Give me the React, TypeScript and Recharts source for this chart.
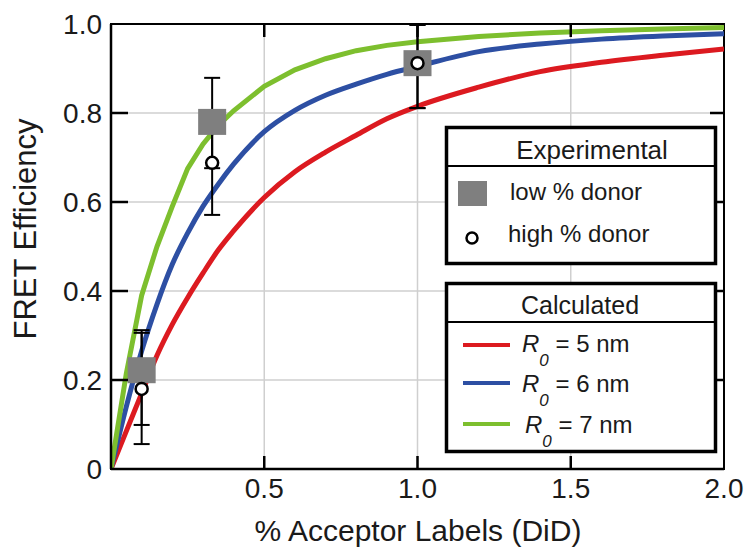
import React from 'react';
import {
  ComposedChart,
  Line,
  Scatter,
  XAxis,
  YAxis,
  CartesianGrid,
  ErrorBar,
  ReferenceArea,
} from 'recharts';

// ---- data ----
const acceptorPct = [0, 0.05, 0.1, 0.15, 0.2, 0.25, 0.3, 0.35, 0.4, 0.5, 0.6, 0.7, 0.8, 0.9, 1.0, 1.2, 1.4, 1.6, 1.8, 2.0];
const effR5 = [0, 0.085, 0.17, 0.255, 0.325, 0.385, 0.44, 0.492, 0.535, 0.61, 0.668, 0.712, 0.75, 0.787, 0.815, 0.858, 0.893, 0.914, 0.93, 0.944];
const effR6 = [0, 0.14, 0.265, 0.37, 0.46, 0.53, 0.59, 0.64, 0.685, 0.758, 0.806, 0.84, 0.865, 0.887, 0.905, 0.938, 0.955, 0.966, 0.973, 0.978];
const effR7 = [0, 0.215, 0.39, 0.5, 0.59, 0.675, 0.73, 0.772, 0.805, 0.86, 0.897, 0.922, 0.94, 0.952, 0.96, 0.972, 0.98, 0.985, 0.989, 0.992];

const lowDonorX = [0.1, 0.33, 1.0];
const lowDonorY = [0.222, 0.78, 0.912];
const lowDonorErrLow = [0.123, 0.104, 0.101];
const lowDonorErrHigh = [0.084, 0.099, 0.086];

const highDonorX = [0.1, 0.33, 1.0];
const highDonorY = [0.18, 0.688, 0.912];
const highDonorErrLow = [0.124, 0.117, 0.101];
const highDonorErrHigh = [0.132, 0.072, 0.086];

const xTicks = [0.5, 1.0, 1.5, 2.0];
const yTicks = [0, 0.2, 0.4, 0.6, 0.8, 1.0];
const xInnerTicks = [0.5, 1.0, 1.5];
const yInnerTicks = [0.2, 0.4, 0.6, 0.8];
const X_DOMAIN = [0, 2];
const Y_DOMAIN = [0, 1];

const seriesValues = ['5', '6', '7'];

// ---- layout / styling ----
const W = 748;
const H = 551;
const MARGIN = { top: 24, right: 24, left: 0, bottom: 0 };
const Y_AXIS_W = 111;
const X_AXIS_H = 82;
const PLOT_L = MARGIN.left + Y_AXIS_W;
const PLOT_T = MARGIN.top;
const PLOT_W = W - MARGIN.right - PLOT_L;
const PLOT_H = H - MARGIN.bottom - X_AXIS_H - PLOT_T;
const sx = (v: number) => PLOT_L + ((v - X_DOMAIN[0]) / (X_DOMAIN[1] - X_DOMAIN[0])) * PLOT_W;
const sy = (v: number) => PLOT_T + (1 - (v - Y_DOMAIN[0]) / (Y_DOMAIN[1] - Y_DOMAIN[0])) * PLOT_H;

const FONT = '"Liberation Sans", Arial, Helvetica, sans-serif';
const RED = '#dc1a20';
const BLUE = '#2d4fa3';
const GREEN = '#7dbf2e';
const GRAY = '#7f7f7f';
const TEXT = '#1a1a1a';

const curveData = acceptorPct.map((x, i) => ({ x, r5: effR5[i], r6: effR6[i], r7: effR7[i] }));
const lowData = lowDonorX.map((x, i) => ({ x, y: lowDonorY[i], err: [lowDonorErrLow[i], lowDonorErrHigh[i]] }));
const highData = highDonorX.map((x, i) => ({ x, y: highDonorY[i], err: [highDonorErrLow[i], highDonorErrHigh[i]] }));

const Square = (props: any) => {
  const { cx, cy } = props;
  if (cx == null || cy == null) return <g />;
  return <rect x={cx - 14} y={cy - 13} width={28} height={26} fill={GRAY} />;
};
const Ring = (props: any) => {
  const { cx, cy } = props;
  if (cx == null || cy == null) return <g />;
  return <circle cx={cx} cy={cy} r={6} fill="#fff" stroke="#000" strokeWidth={2.5} />;
};
const Nothing = () => <g />;

const BottomTick = (props: any) => {
  const { x, y, payload } = props;
  const v = Number(payload.value);
  return (
    <text x={x} y={y} dy="0.71em" textAnchor="middle" fontSize={28} fill={TEXT} fontFamily={FONT}>
      {v.toFixed(1)}
    </text>
  );
};

const LeftTick = (props: any) => {
  const { x, y, payload } = props;
  const v = Number(payload.value);
  return (
    <text x={x} y={y} dy="0.355em" textAnchor="end" fontSize={28} fill={TEXT} fontFamily={FONT}>
      {v === 0 ? '0' : v.toFixed(1)}
    </text>
  );
};

export default function App() {
  const colors = [RED, BLUE, GREEN];
  return (
    <div style={{ position: 'absolute', left: 0, top: 0, width: W, height: H, background: '#fff' }}>
      <ComposedChart width={W} height={H} data={curveData} margin={MARGIN} style={{ fontFamily: FONT }}>
        <CartesianGrid stroke="#cfcfcf" strokeWidth={1.5} />
        <ReferenceArea x1={0} x2={2} y1={0} y2={1} fill="none" fillOpacity={0} stroke="#000" strokeWidth={2} ifOverflow="visible" />
        <Line type="monotone" dataKey="r5" stroke={RED} strokeWidth={5} dot={false} activeDot={false} isAnimationActive={false} />
        <Line type="monotone" dataKey="r6" stroke={BLUE} strokeWidth={5} dot={false} activeDot={false} isAnimationActive={false} />
        <Line type="linear" dataKey="r7" stroke={GREEN} strokeWidth={5} dot={false} activeDot={false} isAnimationActive={false} />
        <Scatter data={lowData} dataKey="y" shape={Square} isAnimationActive={false} />
        <Scatter data={lowData} dataKey="y" shape={Nothing} isAnimationActive={false}>
          <ErrorBar dataKey="err" direction="y" width={8} stroke="#000" strokeWidth={2} isAnimationActive={false} />
        </Scatter>
        <Scatter data={highData} dataKey="y" shape={Ring} isAnimationActive={false}>
          <ErrorBar dataKey="err" direction="y" width={8} stroke="#000" strokeWidth={2} isAnimationActive={false} />
        </Scatter>
        <XAxis
          dataKey="x"
          type="number"
          domain={X_DOMAIN}
          allowDataOverflow
          ticks={xTicks}
          height={X_AXIS_H}
          tickLine={false}
          tickSize={7}
          tickMargin={2}
          axisLine={{ stroke: '#000', strokeWidth: 2.5 }}
          tick={BottomTick}
        />
        <YAxis
          type="number"
          domain={Y_DOMAIN}
          allowDataOverflow
          ticks={yTicks}
          width={Y_AXIS_W}
          tickLine={false}
          tickSize={7}
          tickMargin={2}
          axisLine={{ stroke: '#000', strokeWidth: 2.5 }}
          tick={LeftTick}
        />
      </ComposedChart>

      <svg
        width={W}
        height={H}
        style={{ position: 'absolute', left: 0, top: 0, pointerEvents: 'none', fontFamily: FONT }}
      >
        {/* inward tick marks on all four sides */}
        {xInnerTicks.map((v) => (
          <g key={'xt' + v}>
            <line x1={sx(v)} x2={sx(v)} y1={sy(0)} y2={sy(0) - 13} stroke="#000" strokeWidth={2.5} />
            <line x1={sx(v)} x2={sx(v)} y1={sy(1)} y2={sy(1) + 13} stroke="#000" strokeWidth={2.5} />
          </g>
        ))}
        {yInnerTicks.map((v) => (
          <g key={'yt' + v}>
            <line x1={sx(0)} x2={sx(0) + 17} y1={sy(v)} y2={sy(v)} stroke="#000" strokeWidth={2.5} />
            <line x1={sx(2) - 14} x2={sx(2)} y1={sy(v)} y2={sy(v)} stroke="#000" strokeWidth={2.5} />
          </g>
        ))}

        {/* axis titles */}
        <text x={418} y={541} textAnchor="middle" fontSize={30} fill={TEXT}>
          % Acceptor Labels (DiD)
        </text>
        <text x={36} y={229} textAnchor="middle" fontSize={31} fill={TEXT} transform="rotate(-90 36 229)">
          FRET Efficiency
        </text>

        {/* Experimental legend */}
        <rect x={446.5} y={127.5} width={269} height={136} fill="#fff" stroke="#000" strokeWidth={3.5} />
        <line x1={446} x2={716} y1={166} y2={166} stroke="#000" strokeWidth={2} />
        <text x={592} y={159} textAnchor="middle" fontSize={26} fill={TEXT}>Experimental</text>
        <rect x={458} y={181} width={29} height={25} fill={GRAY} />
        <text x={510} y={200} fontSize={24} fill={TEXT}>low % donor</text>
        <circle cx={472} cy={238} r={5.5} fill="#fff" stroke="#000" strokeWidth={2.5} />
        <text x={508} y={242} fontSize={24} fill={TEXT}>high % donor</text>

        {/* Calculated legend */}
        <rect x={446.5} y={283.5} width={269} height={168} fill="#fff" stroke="#000" strokeWidth={3.5} />
        <line x1={446} x2={716} y1={322} y2={322} stroke="#000" strokeWidth={2} />
        <text x={580} y={314} textAnchor="middle" fontSize={25} fill={TEXT}>Calculated</text>
        {seriesValues.map((val, i) => {
          const ly = [345, 383, 424][i];
          const ty = [352, 392, 433][i];
          const tx = [522, 522, 525][i];
          return (
            <g key={val}>
              <line x1={463} x2={510} y1={ly} y2={ly} stroke={colors[i]} strokeWidth={4} />
              <text x={tx} y={ty} fontSize={24} fill={TEXT}>
                <tspan fontStyle="italic">R</tspan>
                <tspan fontStyle="italic" fontSize={17} dy={14}>0</tspan>
                <tspan dy={-14}>{' = ' + val + ' nm'}</tspan>
              </text>
            </g>
          );
        })}
      </svg>
    </div>
  );
}
